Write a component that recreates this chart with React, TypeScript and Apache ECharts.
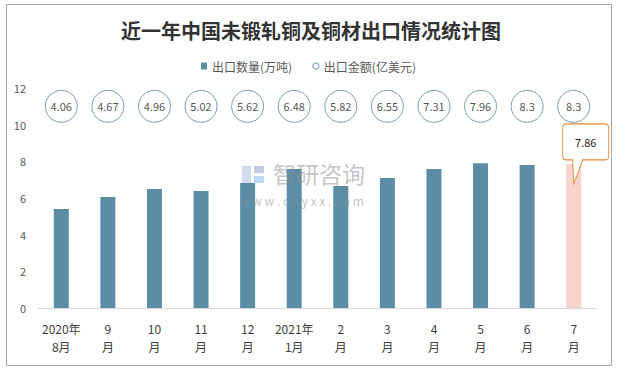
import React, { useEffect, useRef } from "react";
import * as echarts from "echarts";

const title = "近一年中国未锻轧铜及铜材出口情况统计图";
const categories = ["2020年\n8月", "9\n月", "10\n月", "11\n月", "12\n月", "2021年\n1月", "2\n月", "3\n月", "4\n月", "5\n月", "6\n月", "7\n月"];
const exportVolume = [5.4, 6.05, 6.49, 6.38, 6.82, 7.58, 6.66, 7.09, 7.58, 7.9, 7.8, 7.86];
const exportValue = [4.06, 4.67, 4.96, 5.02, 5.62, 6.48, 5.82, 6.55, 7.31, 7.96, 8.3, 8.3];
const seriesNames = ["出口数量(万吨)", "出口金额(亿美元)"];
const highlightIndex = 11;
const CIRCLE_ROW = 11;

const FONT = "'Noto Sans CJK SC', 'Noto Sans', sans-serif";
const calloutPath =
  "path://M4,0 H42 Q46,0 46,4 V32 Q46,36 42,36 H20 L11,60 L10,36 H4 Q0,36 0,32 V4 Q0,0 4,0 Z";

export default function App() {
  const ref = useRef<HTMLDivElement>(null);
  useEffect(() => {
    if (!ref.current) return;
    const chart = echarts.init(ref.current, undefined, { renderer: "svg" });
    const wm = "rgba(140,140,140,0.5)";
    chart.setOption({
      animation: false,
      backgroundColor: "#ffffff",
      textStyle: { fontFamily: FONT },
      title: {
        text: title,
        left: 116,
        top: 15,
        textStyle: { fontSize: 20, fontWeight: "bold", color: "#333333", fontFamily: FONT },
      },
      legend: {
        top: 55,
        left: 196,
        itemGap: 20,
        itemWidth: 6,
        itemHeight: 7,
        textStyle: { fontSize: 12, color: "#595959", fontFamily: FONT },
        data: [
          { name: seriesNames[0], icon: "rect" },
          { name: seriesNames[1], icon: "circle", itemStyle: { color: "#ffffff", borderColor: "#7FA3B8", borderWidth: 1.5 } },
        ],
      },
      grid: { left: 38, right: 26, top: 88, bottom: 62 },
      xAxis: {
        type: "category",
        data: categories,
        axisLine: { show: true, lineStyle: { color: "#D9D9D9", width: 1 } },
        axisTick: { show: false },
        axisLabel: { color: "#404040", fontSize: 12, lineHeight: 18, margin: 11, interval: 0, fontFamily: FONT },
      },
      yAxis: {
        type: "value",
        min: 0,
        max: 12,
        interval: 2,
        axisLine: { show: false },
        axisTick: { show: false },
        splitLine: { show: false },
        axisLabel: { color: "#595959", fontSize: 11, margin: 12, fontFamily: FONT },
      },
      graphic: [
        {
          type: "rect",
          shape: { x: 6.5, y: 4.5, width: 605, height: 361 },
          style: { fill: "none", stroke: "#A6A6A6", lineWidth: 1 },
          silent: true,
          z: 0,
        },
        {
          type: "rect",
          shape: { x: 242, y: 166, width: 9, height: 17 },
          style: { fill: "rgba(180,195,225,0.6)" },
          silent: true,
          z: 100,
        },
        {
          type: "rect",
          shape: { x: 254, y: 166, width: 10, height: 7 },
          style: { fill: "rgba(150,170,210,0.6)" },
          silent: true,
          z: 100,
        },
        {
          type: "rect",
          shape: { x: 254, y: 176, width: 10, height: 7 },
          style: { fill: "rgba(130,190,230,0.55)" },
          silent: true,
          z: 100,
        },
        {
          type: "text",
          left: 273,
          top: 161,
          style: { text: "智研咨询", fontSize: 23, fill: wm, fontFamily: FONT },
          silent: true,
          z: 100,
        },
        {
          type: "text",
          left: 240,
          top: 194,
          style: { text: "w w w . c h y x x . c o m", fontSize: 12, fill: wm, fontFamily: FONT },
          silent: true,
          z: 100,
        },
      ],
      series: [
        {
          name: seriesNames[0],
          type: "bar",
          barWidth: 15,
          itemStyle: { color: "#5B8EA6" },
          data: exportVolume.map((v, i) =>
            i === highlightIndex ? { value: v, itemStyle: { color: "#F8D3CB" } } : v
          ),
          markPoint: {
            symbol: calloutPath,
            symbolSize: [46, 60],
            symbolOffset: [12, -10],
            itemStyle: { color: "#ffffff", borderColor: "#E8892F", borderWidth: 1 },
            label: {
              show: true,
              position: "inside",
              offset: [0, -12],
              color: "#262626",
              fontSize: 11,
              fontFamily: FONT,
              formatter: (p: any) => String(p.value),
            },
            data: [{ coord: [highlightIndex, exportVolume[highlightIndex]], value: exportVolume[highlightIndex] }],
          },
        },
        {
          name: seriesNames[1],
          type: "scatter",
          symbol: "circle",
          symbolSize: 32,
          itemStyle: { color: "#ffffff", borderColor: "#5A88A2", borderWidth: 1 },
          label: {
            show: true,
            position: "inside",
            color: "#262626",
            fontSize: 11,
            fontFamily: FONT,
            formatter: (p: any) => String(exportValue[p.dataIndex]),
          },
          data: exportValue.map((v) => ({ value: CIRCLE_ROW, amount: v })),
          z: 3,
        },
      ],
    });
    return () => chart.dispose();
  }, []);
  return <div ref={ref} style={{ position: "fixed", left: 0, top: 0, width: 623, height: 370 }} />;
}
